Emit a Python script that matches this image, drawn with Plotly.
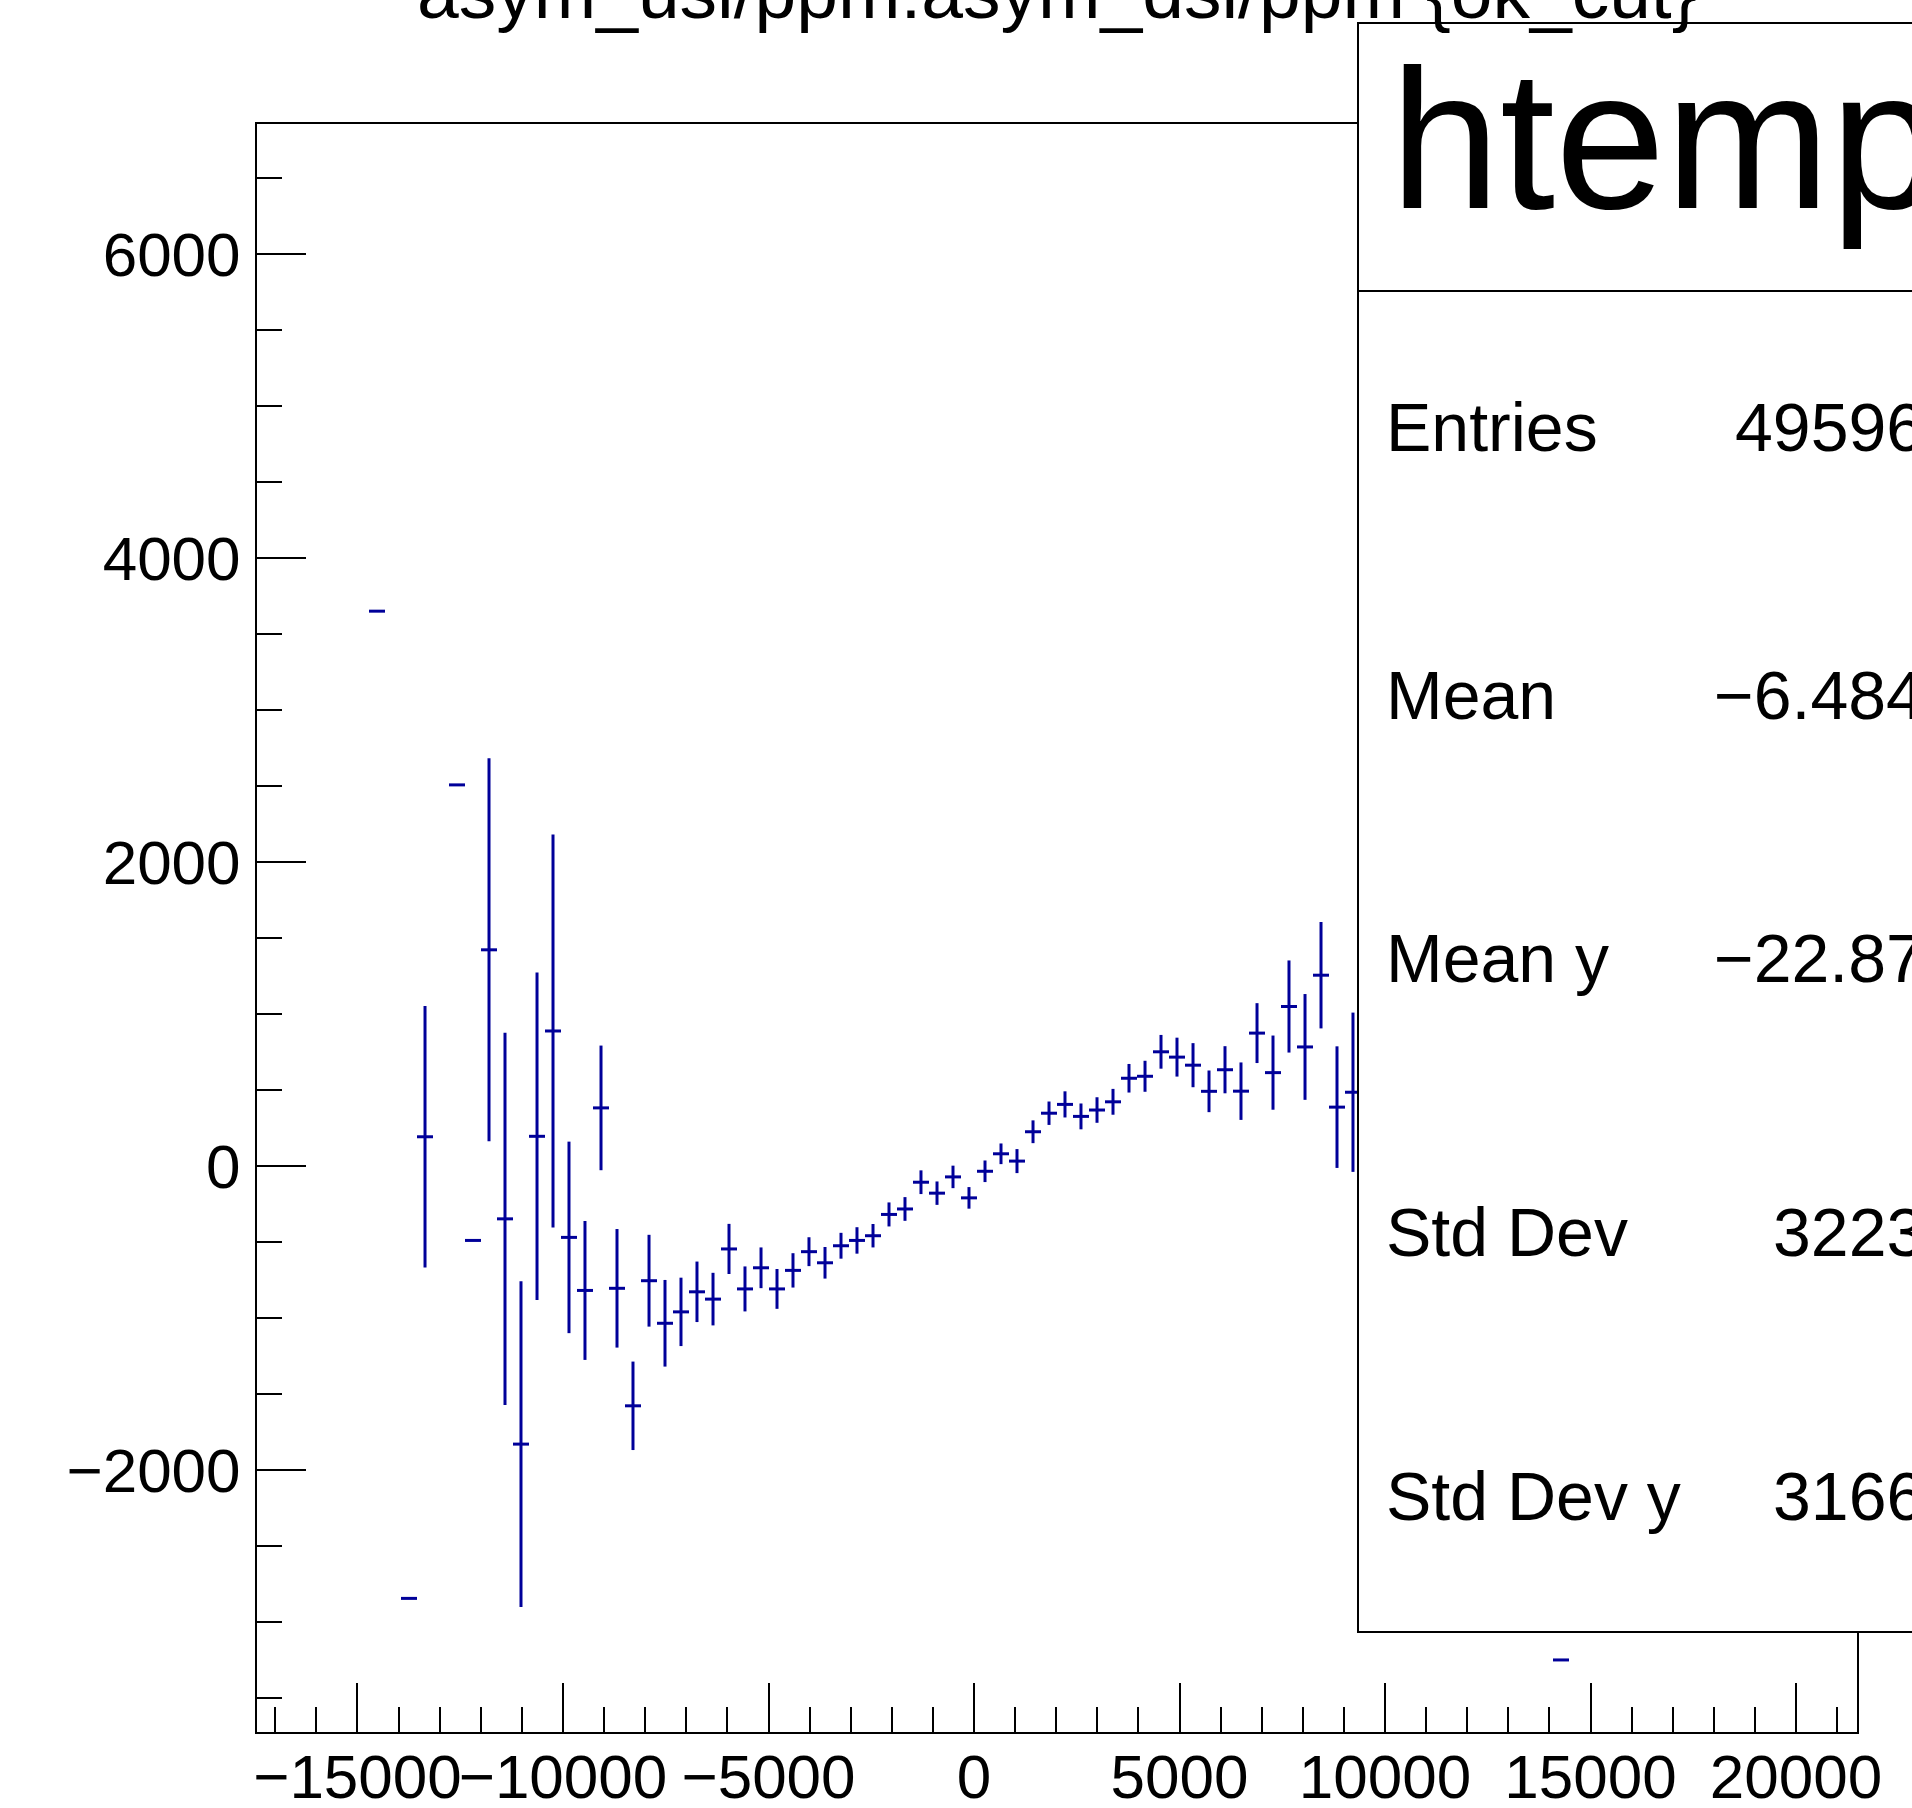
import plotly.graph_objects as go

# ---- data (profile histogram: bin centers, mean y, error on mean) ----
bin_centers = [-14525, -13747, -13357, -12579, -12190, -11800, -11411, -11022,
               -10632, -10243, -9854, -9465, -9075, -8686, -8297, -7907, -7518,
               -7129, -6740, -6350, -5961, -5572, -5182, -4793, -4404, -4015,
               -3625, -3236, -2847, -2457, -2068, -1679, -1290, -900, -511,
               -122, 268, 657, 1046, 1436, 1825, 2214, 2603, 2993, 3382, 3771,
               4161, 4550, 4939, 5329, 5718, 6107, 6496, 6886, 7275, 7664,
               8054, 8443, 8832, 9221, 14282]
mean_y = [3650, -2845, 192, 2507, -490, 1422, -348, -1830, 195, 888, -470, -819,
          382, -805, -1578, -755, -1035, -960, -828, -876, -546, -809, -670,
          -809, -687, -564, -637, -525, -490, -459, -319, -283, -107, -179,
          -72, -210, -35, 80, 32, 225, 347, 405, 326, 368, 422, 577, 590, 751,
          716, 663, 491, 633, 492, 874, 614, 1049, 783, 1255, 387, 485, -3250]
err_y = [0, 0, 860, 0, 0, 1260, 1225, 1072, 1077, 1293, 630, 457, 410, 390,
         291, 302, 285, 225, 199, 173, 165, 148, 134, 131, 113, 95, 104, 85,
         87, 77, 79, 78, 78, 77, 74, 71, 71, 68, 79, 75, 77, 86, 85, 84, 85,
         94, 102, 111, 128, 145, 137, 155, 189, 197, 244, 303, 348, 350, 400,
         524, 0]
bin_half_width = 194.65

x_range = [-17445, 21484]
y_range = [-3724, 6855]

title_text = "asym_usl/ppm:asym_dsl/ppm {ok_cut}"
stats_name = "htemp"
stats_labels = ["Entries", "Mean", "Mean y", "Std Dev", "Std Dev y"]
stats_values = ["49596", "\u22126.484", "\u221222.87", "3223", "3166"]

# ---- layout geometry (pixels) ----
W, H = 1912, 1808
L, R, T, B = 257, 1857, 124, 1732
FONT = "Liberation Sans, Arial, Helvetica, sans-serif"
COLOR = "#000099"


def px_x(p):
    return (p - L) / (R - L)


def px_y(p):
    return (B - p) / (B - T)


fig = go.Figure()
fig.add_trace(go.Scatter(
    x=bin_centers, y=mean_y, mode="markers",
    marker=dict(size=1, color=COLOR),
    error_x=dict(type="constant", value=bin_half_width, width=0,
                 thickness=3, color=COLOR),
    error_y=dict(type="data", array=err_y, width=0, thickness=3,
                 color=COLOR),
    showlegend=False, hoverinfo="skip",
))

axis_common = dict(
    showgrid=False, zeroline=False, showline=True, linecolor="black",
    linewidth=2, mirror=True, ticks="inside", ticklen=49, tickwidth=2,
    tickcolor="black", automargin=False, tickformat="d",
    tickfont=dict(family=FONT, size=62, color="black"),
)

fig.update_xaxes(range=x_range, tickmode="linear", tick0=0, dtick=5000,
                 tickangle=0, ticklabelstandoff=-10,
                 minor=dict(ticks="inside", ticklen=25, tickwidth=2,
                            tickcolor="black", dtick=1000, tick0=0),
                 **axis_common)
fig.update_yaxes(range=y_range, tickmode="linear", tick0=0, dtick=2000,
                 ticklabelstandoff=2,
                 minor=dict(ticks="inside", ticklen=25, tickwidth=2,
                            tickcolor="black", dtick=500, tick0=0),
                 **axis_common)

# stats box (opaque, above the data)
box_left, box_top, box_bottom, box_sep = 1358, 23, 1632, 291
fig.add_shape(type="rect", xref="paper", yref="paper",
              x0=px_x(box_left), x1=px_x(1990), y0=px_y(box_bottom),
              y1=px_y(box_top), line=dict(color="black", width=2),
              fillcolor="white", layer="above")
fig.add_shape(type="line", xref="paper", yref="paper",
              x0=px_x(box_left), x1=px_x(1990), y0=px_y(box_sep),
              y1=px_y(box_sep), line=dict(color="black", width=2),
              layer="above")

annotations = []
annotations.append(dict(text=stats_name, xref="paper", yref="paper",
                        x=px_x(1388), y=px_y(139), xanchor="left",
                        yanchor="middle", showarrow=False,
                        font=dict(family=FONT, size=198, color="black")))
row_centers = [427, 695, 958, 1232, 1496]
for lab, val, yc in zip(stats_labels, stats_values, row_centers):
    annotations.append(dict(text=lab, xref="paper", yref="paper",
                            x=px_x(1384), y=px_y(yc), xanchor="left",
                            yanchor="middle", showarrow=False,
                            font=dict(family=FONT, size=68, color="black")))
    annotations.append(dict(text=val, xref="paper", yref="paper",
                            x=px_x(1926), y=px_y(yc), xanchor="right",
                            yanchor="middle", showarrow=False,
                            font=dict(family=FONT, size=68, color="black")))

annotations.append(dict(text=title_text, xref="paper", yref="paper",
                        x=px_x(1057), y=px_y(-8), xanchor="center",
                        yanchor="middle", showarrow=False,
                        font=dict(family=FONT, size=75, color="black")))

fig.update_layout(
    width=W, height=H, autosize=False,
    margin=dict(l=L, r=W - R, t=T, b=H - B, pad=0),
    paper_bgcolor="white", plot_bgcolor="white",
    annotations=annotations, showlegend=False,
)

fig.write_html("out.html", config={"displayModeBar": False},
               post_script="document.body.style.margin='0';")
